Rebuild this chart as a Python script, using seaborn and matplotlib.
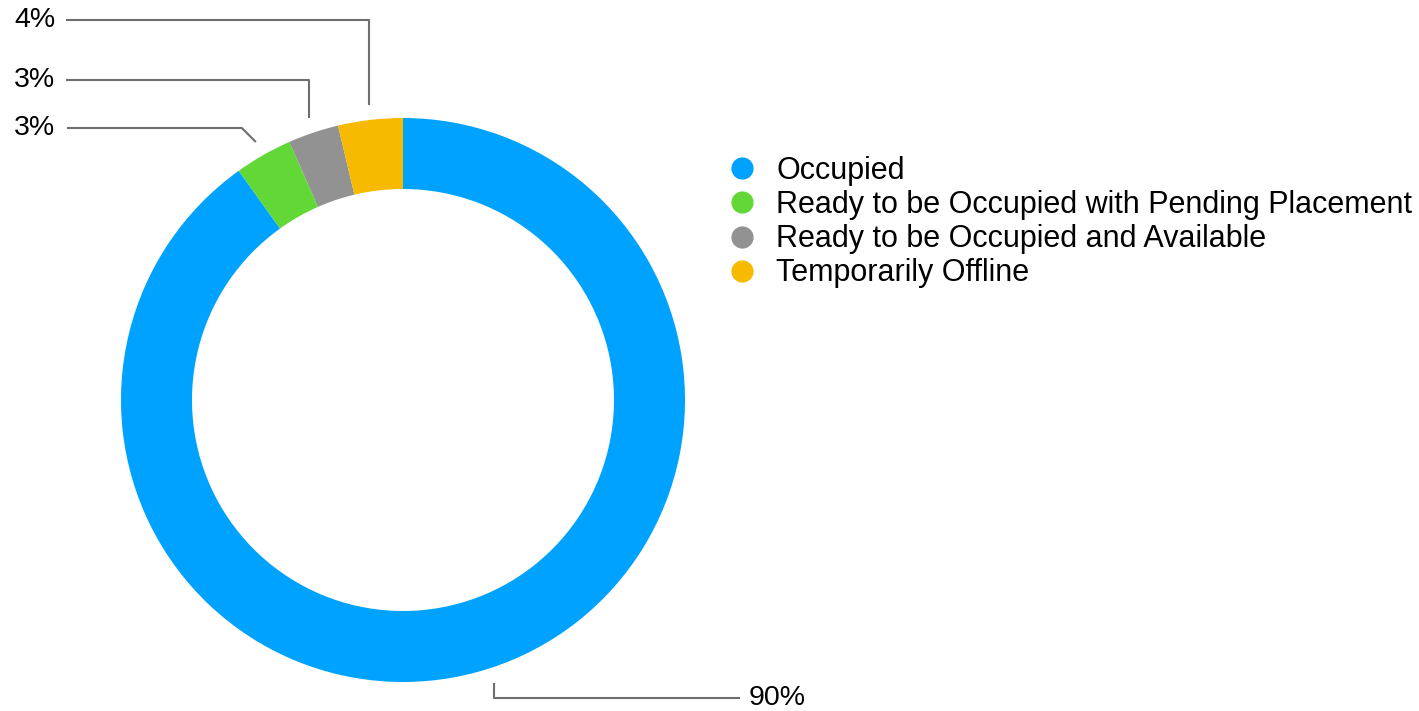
import numpy as np
import matplotlib
matplotlib.use('Agg')
import matplotlib.pyplot as plt
from matplotlib.lines import Line2D
import seaborn as sns

labels = ['Occupied', 'Ready to be Occupied with Pending Placement',
          'Ready to be Occupied and Available', 'Temporarily Offline']
shares = [90.1, 3.3, 2.9, 3.7]
colors = ['#00A2FF', '#61D836', '#929292', '#F8BA00']

sns.set_theme(style='white')
plt.rcParams['font.family'] = ['Liberation Sans', 'DejaVu Sans']
plt.rcParams['text.color'] = 'black'

W, H = 1419, 711
fig = plt.figure(figsize=(W / 100, H / 100), dpi=100)
ax = fig.add_axes([0, 0, 1, 1])

# donut, in pixel coords (y up)
cx, cy, R, ring = 403, H - 400, 282, 71
wedges, _ = ax.pie(shares, colors=colors, startangle=90, counterclock=False,
                   center=(cx, cy), radius=R,
                   wedgeprops=dict(width=ring, linewidth=0))
ax.set_xlim(0, W)
ax.set_ylim(0, H)
ax.set_aspect('auto')
ax.axis('off')

# leader lines + percent labels ##################################
def anchor(w, r=R + 15):
    a = np.deg2rad((w.theta1 + w.theta2) / 2)
    return cx + r * np.cos(a), cy + r * np.sin(a)

line_kw = dict(color='#6e6e6e', linewidth=1.5, solid_capstyle='butt')
txt_kw = dict(fontsize=20.5, color='black', va='center')

# label y (px from top), line end x, text x
layout = {
    3: (20, 66, 14),
    2: (80, 66, 14),
    1: (128, 67, 14),
}
for i, (ly, lx, tx) in layout.items():
    px, py = anchor(wedges[i])
    yy = H - ly
    if i == 1:
        ex = px - (yy - py)
        ax.plot([px, ex, lx], [py, yy, yy], **line_kw)
    else:
        ax.plot([px, px, lx], [py, yy, yy], **line_kw)
    ax.text(tx, yy, f'{round(shares[i])}%', ha='left', **txt_kw)

px, py = anchor(wedges[0])
yy = H - 698
ax.plot([px, px, 740], [py, yy, yy], **line_kw)
ax.text(749, yy, f'{round(shares[0])}%', ha='left', **txt_kw)

# legend ##########################################################
handles = [Line2D([], [], marker='o', linestyle='none', markersize=16,
                  markerfacecolor=c, markeredgewidth=0) for c in colors]
fig.legend(handles, labels, loc='upper left', bbox_to_anchor=(727 / W, 1 - 156 / H),
           frameon=False, fontsize=22, handlelength=1.0, handletextpad=0.61,
           labelspacing=0.135, borderpad=0, borderaxespad=0, labelcolor='black')

fig.savefig('out.png', dpi=100)
